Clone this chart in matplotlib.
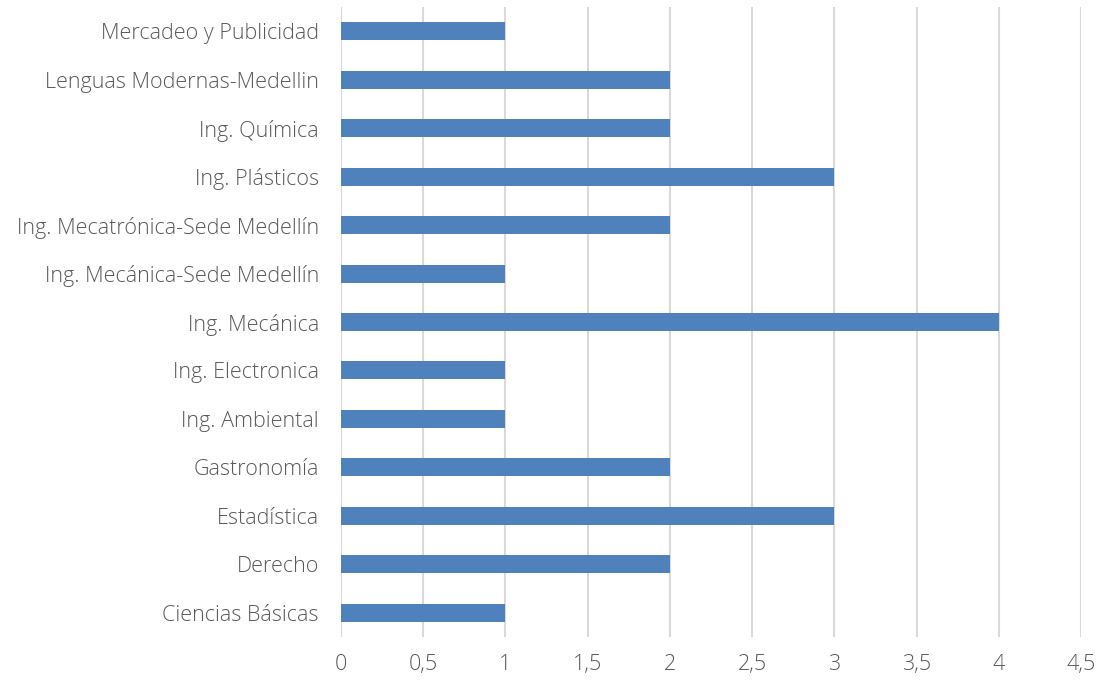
import matplotlib
matplotlib.use("Agg")
import matplotlib.pyplot as plt

categories = [
    "Ciencias Básicas",
    "Derecho",
    "Estadística",
    "Gastronomía",
    "Ing. Ambiental",
    "Ing. Electronica",
    "Ing. Mecánica",
    "Ing. Mecánica-Sede Medellín",
    "Ing. Mecatrónica-Sede Medellín",
    "Ing. Plásticos",
    "Ing. Química",
    "Lenguas Modernas-Medellin",
    "Mercadeo y Publicidad",
]
values = [1, 2, 3, 2, 1, 1, 4, 1, 2, 3, 2, 2, 1]
x_ticks = [0, 0.5, 1, 1.5, 2, 2.5, 3, 3.5, 4, 4.5]
x_tick_labels = ["0", "0,5", "1", "1,5", "2", "2,5", "3", "3,5", "4", "4,5"]

plt.rcParams["font.family"] = ["Open Sans", "DejaVu Sans"]
text_color = "#595959"
label_size = 15.5

fig = plt.figure(figsize=(11.01, 6.81), dpi=100)
ax = fig.add_axes([341 / 1101, 1 - 637 / 681, 740 / 1101, 630 / 681])

positions = list(range(len(categories)))
ax.barh(positions, values, height=0.37, color="#4F81BD", zorder=3)

ax.set_xlim(0, 4.5)
ax.set_ylim(-0.5, len(categories) - 0.5)
ax.set_yticks(positions)
ax.set_yticklabels(categories, fontsize=label_size, color=text_color, fontweight="light")
ax.set_xticks(x_ticks)
ax.set_xticklabels(x_tick_labels, fontsize=label_size, color=text_color, fontweight="light")

ax.grid(axis="x", color="#D9D9D9", linewidth=1.5, zorder=0)
for side in ["top", "right", "bottom", "left"]:
    ax.spines[side].set_visible(False)
ax.tick_params(axis="both", length=0)
ax.tick_params(axis="y", pad=16)
ax.tick_params(axis="x", pad=12)

fig.savefig("out.png", dpi=100)
